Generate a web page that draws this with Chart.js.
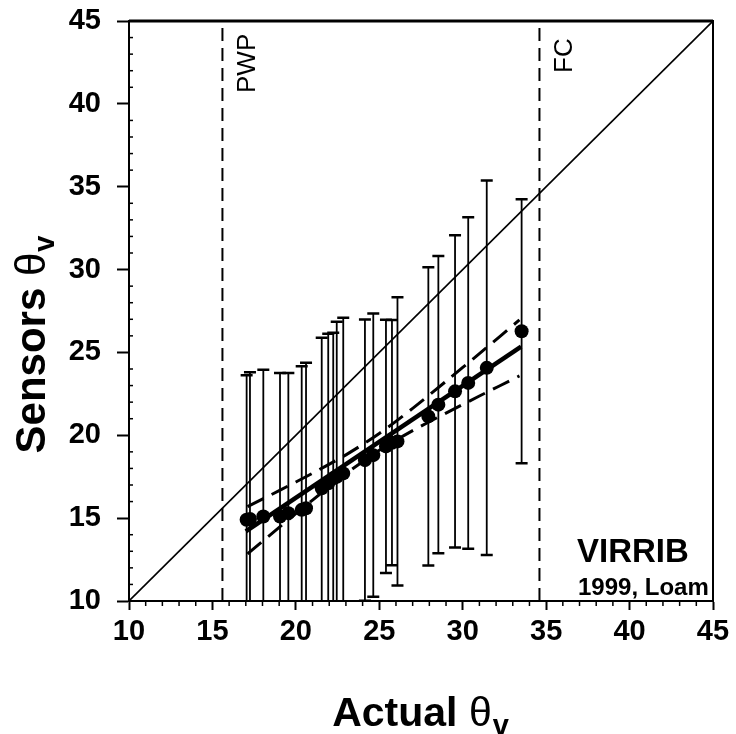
<!DOCTYPE html>
<html><head><meta charset="utf-8">
<script src="https://cdn.jsdelivr.net/npm/chart.js@4"></script>
<style>html,body{margin:0;padding:0;background:#fff}#wrap{width:736px;height:734px}</style>
</head><body><div id="wrap"><canvas id="c" width="736" height="734"></canvas></div>
<script>
// ---- data ----
const actualTheta = [17.05, 17.25, 18.05, 19.05, 19.55, 20.35, 20.61, 21.55, 21.94, 22.24, 22.45, 22.84, 24.14, 24.64, 25.40, 25.76, 26.09, 27.94, 28.54, 29.54, 30.33, 31.44, 33.53];
const sensorTheta = [14.90, 14.95, 15.10, 15.10, 15.30, 15.50, 15.60, 16.80, 17.10, 17.40, 17.50, 17.70, 18.50, 18.80, 19.33, 19.55, 19.63, 21.14, 21.85, 22.65, 23.16, 24.07, 26.28];
const sensorSD    = [8.72, 8.85, 8.86, 8.66, 8.46, 8.66, 8.77, 9.08, 9.02, 8.78, 9.35, 9.39, 8.49, 8.55, 7.64, 7.40, 8.70, 9.00, 8.97, 9.42, 10.00, 11.30, 7.96];
const fitX = [17.0, 33.5];
const fitY = [14.2, 25.35];
const bandX     = [17.1, 19, 21, 23, 25, 27, 29, 31, 33.4];
const bandUpper = [15.70, 16.66, 17.71, 18.82, 20.11, 21.62, 23.26, 24.93, 26.96];
const bandLower = [12.84, 14.44, 16.09, 17.68, 19.09, 20.28, 21.34, 22.37, 23.58];
const oneToOne = [10, 45];
const pwpTheta = 15.6;
const fcTheta = 34.6;
const axisMin = 10, axisMax = 45, axisStep = 5;
const xTitle = ['Actual ', 'θ', 'v'];
const yTitle = ['Sensors ', 'θ', 'v'];
const siteLabel = 'VIRRIB';
const siteSub = '1999, Loam';

const FONT = "'Liberation Sans', Arial, sans-serif";
const pts = (xs, ys) => xs.map((x, i) => ({x, y: ys[i]}));

const errorBars = {
  id: 'errorBars',
  beforeDatasetsDraw(chart) {
    const {ctx, chartArea: a, scales: {x, y}} = chart;
    ctx.save();
    ctx.beginPath(); ctx.rect(a.left, a.top, a.right - a.left, a.bottom - a.top); ctx.clip();
    ctx.strokeStyle = '#000';
    actualTheta.forEach((v, i) => {
      const px = x.getPixelForValue(v);
      const top = y.getPixelForValue(sensorTheta[i] + sensorSD[i]);
      const bot = y.getPixelForValue(sensorTheta[i] - sensorSD[i]);
      ctx.lineWidth = 1.8;
      ctx.beginPath(); ctx.moveTo(px, top); ctx.lineTo(px, bot); ctx.stroke();
      ctx.lineWidth = 2.5;
      ctx.beginPath(); ctx.moveTo(px - 6, top); ctx.lineTo(px + 6, top);
      ctx.moveTo(px - 6, bot); ctx.lineTo(px + 6, bot); ctx.stroke();
    });
    ctx.restore();
  }
};

function drawTitle(ctx, parts, cx, base, size) {
  const f1 = 'bold ' + size + 'px ' + FONT, f2 = size + 'px ' + FONT, f3 = 'bold ' + Math.round(size * 0.7) + 'px ' + FONT;
  ctx.font = f1; const w1 = ctx.measureText(parts[0]).width;
  ctx.font = f2; const w2 = ctx.measureText(parts[1]).width;
  ctx.font = f3; const w3 = ctx.measureText(parts[2]).width;
  let sx = cx - (w1 + w2 + w3) / 2;
  ctx.textBaseline = 'alphabetic'; ctx.textAlign = 'left';
  ctx.font = f1; ctx.fillText(parts[0], sx, base); sx += w1;
  ctx.font = f2; ctx.fillText(parts[1], sx, base); sx += w2 + 1;
  ctx.font = f3; ctx.fillText(parts[2], sx, base + Math.round(size * 0.22));
}

const decor = {
  id: 'decor',
  afterDraw(chart) {
    const {ctx, chartArea: a, scales: {x, y}} = chart;
    ctx.save();
    ctx.strokeStyle = '#000'; ctx.fillStyle = '#000';
    // frame
    ctx.lineWidth = 2;
    ctx.beginPath();
    ctx.moveTo(a.left, a.bottom); ctx.lineTo(a.left, a.top); ctx.lineTo(a.right, a.top); ctx.lineTo(a.right, a.bottom); ctx.lineTo(a.left, a.bottom);
    ctx.stroke();
    ctx.lineWidth = 3;
    ctx.beginPath(); ctx.moveTo(a.left, a.top); ctx.lineTo(a.right, a.top); ctx.stroke();
    // minor ticks
    ctx.lineWidth = 1.5;
    for (let v = axisMin + 1; v < axisMax; v++) {
      if (v % axisStep === 0) continue;
      const px = x.getPixelForValue(v);
      ctx.beginPath(); ctx.moveTo(px, a.bottom); ctx.lineTo(px, a.bottom + 5); ctx.stroke();
      const py = y.getPixelForValue(v);
      ctx.beginPath(); ctx.moveTo(a.left, py); ctx.lineTo(a.left + 4, py); ctx.stroke();
    }
    // titles
    drawTitle(ctx, xTitle, 420, 726, 41);
    ctx.save(); ctx.translate(45, 345); ctx.rotate(-Math.PI / 2);
    drawTitle(ctx, yTitle, 0, 0, 42);
    ctx.restore();
    // PWP / FC labels
    ctx.font = '26px ' + FONT; ctx.textBaseline = 'alphabetic'; ctx.textAlign = 'left';
    ctx.save(); ctx.translate(x.getPixelForValue(pwpTheta) + 33, 93); ctx.rotate(-Math.PI / 2);
    ctx.fillText('PWP', 0, 0); ctx.restore();
    ctx.save(); ctx.translate(x.getPixelForValue(fcTheta) + 33, 73); ctx.rotate(-Math.PI / 2);
    ctx.fillText('FC', 0, 0); ctx.restore();
    // site label
    ctx.textAlign = 'left';
    ctx.font = 'bold 33px ' + FONT; ctx.fillText(siteLabel, 577, 562);
    ctx.font = 'bold 24px ' + FONT; ctx.fillText(siteSub, 578, 595);
    ctx.restore();
  }
};

const vline = v => [{x: v, y: axisMin}, {x: v, y: axisMax}];

new Chart(document.getElementById('c'), {
  type: 'scatter',
  data: {
    datasets: [
      {label: '1:1', data: pts(oneToOne, oneToOne), showLine: true, borderColor: '#000', borderWidth: 1.6, pointRadius: 0},
      {label: 'PWP', data: vline(pwpTheta), showLine: true, borderColor: '#000', borderWidth: 2, borderDash: [13, 7], pointRadius: 0},
      {label: 'FC', data: vline(fcTheta), showLine: true, borderColor: '#000', borderWidth: 2, borderDash: [13, 7], pointRadius: 0},
      {label: 'upper', data: pts(bandX, bandUpper), showLine: true, borderColor: '#000', borderWidth: 3, borderDash: [18, 9], pointRadius: 0, tension: 0.3},
      {label: 'lower', data: pts(bandX, bandLower), showLine: true, borderColor: '#000', borderWidth: 3, borderDash: [18, 9], pointRadius: 0, tension: 0.3},
      {label: 'fit', data: pts(fitX, fitY), showLine: true, borderColor: '#000', borderWidth: 4.5, pointRadius: 0},
      {label: 'sensors', data: pts(actualTheta, sensorTheta), showLine: false, pointRadius: 7, backgroundColor: '#000', borderColor: '#000', borderWidth: 0}
    ]
  },
  options: {
    responsive: false, animation: false, devicePixelRatio: 1,
    layout: {padding: {left: 0, right: 23, top: 21, bottom: 0}},
    plugins: {legend: {display: false}, tooltip: {enabled: false}},
    scales: {
      x: {
        type: 'linear', min: axisMin, max: axisMax,
        afterFit: s => { s.height = 133; s.paddingLeft = 0; s.paddingRight = 0; },
        ticks: {stepSize: axisStep, color: '#000', font: {family: FONT, size: 29, weight: 'bold'}, padding: 5, maxRotation: 0},
        grid: {drawOnChartArea: false, drawTicks: true, tickLength: 9, tickWidth: 2, tickColor: '#000'},
        border: {display: true, color: '#000', width: 2}
      },
      y: {
        type: 'linear', min: axisMin, max: axisMax,
        afterFit: s => { s.width = 129; s.paddingTop = 0; s.paddingBottom = 0; },
        ticks: {stepSize: axisStep, color: '#000', font: {family: FONT, size: 29, weight: 'bold'}, padding: 16},
        grid: {drawOnChartArea: false, drawTicks: true, tickLength: 12, tickWidth: 2, tickColor: '#000'},
        border: {display: true, color: '#000', width: 2}
      }
    }
  },
  plugins: [errorBars, decor]
});
</script></body></html>
